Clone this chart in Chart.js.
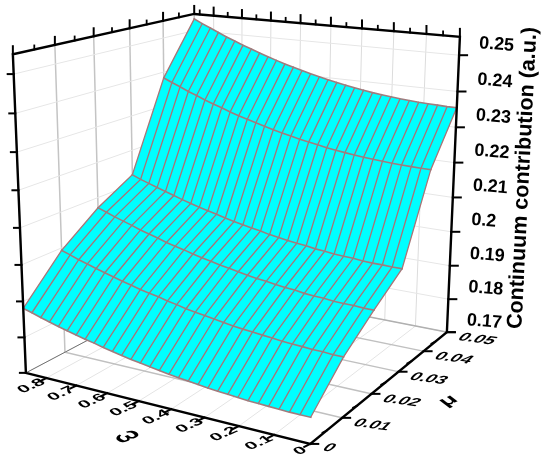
<!DOCTYPE html>
<html>
<head>
<meta charset="utf-8">
<script src="https://cdn.jsdelivr.net/npm/chart.js@4"></script>
<style>
body { margin: 0; background: #fff; }
</style>
</head>
<body>
<canvas id="myChart" width="550" height="465"></canvas>
<script>
var omegaTicks = [0, 0.1, 0.2, 0.3, 0.4, 0.5, 0.6, 0.7, 0.8];
var muTicks = [0, 0.01, 0.02, 0.03, 0.04, 0.05];
var zTicks = [0.17, 0.18, 0.19, 0.2, 0.21, 0.22, 0.23, 0.24, 0.25];
var omegaMax = 0.87, muMax = 0.05, zMin = 0.17, zMax = 0.255;

var omegaGrid = [0, 0.029, 0.058, 0.087, 0.116, 0.145, 0.174, 0.203, 0.232, 0.261, 0.29, 0.319, 0.348, 0.377, 0.406, 0.435,
    0.464, 0.493, 0.522, 0.551, 0.58, 0.609, 0.638, 0.667, 0.696, 0.725, 0.754, 0.783, 0.812, 0.841, 0.87];
var muGrid = [0, 0.01, 0.02, 0.03, 0.04, 0.05];

// continuum contribution along omega, one list per mu value
var contMu000 = [.1768, .1768, .1768, .1769, .1770, .1771, .1772, .1774, .1776, .1778, .1780, .1783, .1786, .1789, .1792, .1796,
    .1800, .1804, .1808, .1813, .1818, .1823, .1829, .1834, .1840, .1846, .1852, .1859, .1866, .1874, .1881];
var contMu001 = [.1860, .1860, .1862, .1862, .1864, .1865, .1867, .1870, .1872, .1875, .1877, .1880, .1884, .1888, .1892, .1896,
    .1900, .1906, .1911, .1917, .1922, .1927, .1934, .1940, .1947, .1954, .1961, .1969, .1976, .1985, .1993];
var contMu002 = [.1927, .1927, .1929, .1929, .1930, .1933, .1934, .1936, .1940, .1942, .1945, .1949, .1952, .1956, .1961, .1966,
    .1970, .1976, .1981, .1987, .1994, .2000, .2006, .2014, .2021, .2028, .2037, .2045, .2053, .2062, .2071];
var contMu003 = [.1988, .1988, .1989, .1989, .1990, .1993, .1994, .1996, .1999, .2001, .2005, .2008, .2011, .2015, .2019, .2025,
    .2029, .2034, .2039, .2045, .2052, .2058, .2064, .2071, .2078, .2086, .2094, .2102, .2110, .2118, .2128];
var contMu004 = [.2217, .2217, .2218, .2219, .2220, .2222, .2224, .2226, .2229, .2232, .2235, .2239, .2244, .2248, .2253, .2259,
    .2264, .2270, .2277, .2284, .2291, .2298, .2306, .2315, .2323, .2332, .2342, .2351, .2362, .2372, .2383];
var contMu005 = [.2355, .2355, .2356, .2357, .2358, .2360, .2362, .2365, .2368, .2371, .2375, .2379, .2384, .2389, .2394, .2400,
    .2406, .2413, .2420, .2427, .2435, .2443, .2452, .2461, .2470, .2480, .2490, .2501, .2512, .2523, .2535];
var surface = [contMu000, contMu001, contMu002, contMu003, contMu004, contMu005];

// camera: where box corners land on the page [u, v, w, px, py], u=omega, v=mu, w=z, all 0..1
var corners = [
    [1, 0, 0, 26, 373], [1, 0, 1, 13, 54], [0, 1, 0, 447, 332],
    [0, 1, 1, 460, 37], [0, 0, 0, 310, 444], [1, 1, 1, 194, 14]
];

function solveCamera(pts) {
    var rows = [];
    pts.forEach(function (p) {
        rows.push([p[0], p[1], p[2], 1, 0, 0, 0, 0, -p[3] * p[0], -p[3] * p[1], -p[3] * p[2], p[3]]);
        rows.push([0, 0, 0, 0, p[0], p[1], p[2], 1, -p[4] * p[0], -p[4] * p[1], -p[4] * p[2], p[4]]);
    });
    // normal equations
    var n = 11, m = [];
    for (var i = 0; i < n; i++) {
        m.push([]);
        for (var j = 0; j <= n; j++) {
            var s = 0;
            rows.forEach(function (r) { s += r[i] * r[j]; });
            m[i].push(s);
        }
    }
    for (var c = 0; c < n; c++) {
        var best = c;
        for (var r = c + 1; r < n; r++) if (Math.abs(m[r][c]) > Math.abs(m[best][c])) best = r;
        var tmp = m[c]; m[c] = m[best]; m[best] = tmp;
        for (var r2 = 0; r2 < n; r2++) {
            if (r2 === c) continue;
            var f = m[r2][c] / m[c][c];
            for (var k = c; k <= n; k++) m[r2][k] -= f * m[c][k];
        }
    }
    return m.map(function (row, idx) { return row[n] / row[idx]; });
}
var cam = solveCamera(corners);

function project(omega, mu, z) {
    var u = omega / omegaMax, v = mu / muMax, w = (z - zMin) / (zMax - zMin);
    var d = cam[8] * u + cam[9] * v + cam[10] * w + 1;
    return {
        x: (cam[0] * u + cam[1] * v + cam[2] * w + cam[3]) / d,
        y: (cam[4] * u + cam[5] * v + cam[6] * w + cam[7]) / d
    };
}

var datasets = [];
function addLine(pts, color, width) {
    datasets.push({ data: pts, showLine: true, pointRadius: 0, borderColor: color, borderWidth: width, fill: false, tension: 0, borderCapStyle: 'square' });
}
function addTick(p, dx, dy, width) {
    addLine([p, { x: p.x + dx, y: p.y + dy }], '#000', width);
}

// grid on walls and floor
omegaTicks.forEach(function (o) {
    addLine([project(o, 0, zMin), project(o, muMax, zMin)], '#e4e4e4', 1);
    addLine([project(o, muMax, zMin), project(o, muMax, zMax)], '#dcdcdc', 1);
});
muTicks.forEach(function (m) {
    addLine([project(omegaMax, m, zMin), project(omegaMax, m, zMax)], '#c4c4c4', 1.5);
    if (m > 0 && m < muMax) addLine([project(omegaMax, m, zMin), project(0, m, zMin)], '#c0c0c0', 1.5);
});
zTicks.forEach(function (z) {
    addLine([project(omegaMax, 0, z), project(omegaMax, muMax, z)], '#e6e6e6', 1);
    addLine([project(omegaMax, muMax, z), project(0, muMax, z)], '#e6e6e6', 1);
});
addLine([project(omegaMax, 0, zMin), project(omegaMax, muMax, zMin)], '#707070', 1);
addLine([project(omegaMax, muMax, zMin), project(0, muMax, zMin)], '#b0b0b0', 1.5);

// surface fill, strip by strip from the back
for (var r = surface.length - 2; r >= 0; r--) {
    var strip = [];
    omegaGrid.forEach(function (o, i) { strip.push(project(o, muGrid[r], surface[r][i])); });
    for (var i = omegaGrid.length - 1; i >= 0; i--) strip.push(project(omegaGrid[i], muGrid[r + 1], surface[r + 1][i]));
    datasets.push({ data: strip, showLine: true, pointRadius: 0, borderWidth: 0, borderColor: '#00ffff', backgroundColor: '#00ffff', fill: 'shape', tension: 0 });
}

// mesh
omegaGrid.forEach(function (o, i) {
    addLine(surface.map(function (row, r) { return project(o, muGrid[r], row[i]); }), '#a87476', 1.3);
});
surface.forEach(function (row, r) {
    addLine(omegaGrid.map(function (o, i) { return project(o, muGrid[r], row[i]); }), '#a07c7e', 1.6);
});

// box edges
addLine([project(omegaMax, 0, zMin), project(omegaMax, 0, zMax), project(omegaMax, muMax, zMax), project(0, muMax, zMax), project(0, muMax, zMin), project(0, 0, zMin), project(omegaMax, 0, zMin)], '#000', 2.4);

muTicks.forEach(function (m, i) {
    addTick(project(omegaMax, m, zMax), 0, -8, 2);
    addTick(project(0, m, zMin), 8, 0, 2);
    if (i < muTicks.length - 1) {
        addTick(project(omegaMax, m + 0.005, zMax), 0, -4, 1.8);
        addTick(project(0, m + 0.005, zMin), -4, 2, 1.8);
    }
});
omegaTicks.forEach(function (o, i) {
    addTick(project(o, muMax, zMax), 0, -8, 2);
    addTick(project(o, 0, zMin), -6, 3, 2);
    addTick(project(o + 0.05, muMax, zMax), 0, -4, 1.8);
});
zTicks.forEach(function (z) {
    addTick(project(omegaMax, 0, z), -6, 0, 2);
    addTick(project(0, muMax, z), 8, 0, 2);
});

datasets.forEach(function (d, i) { d.order = datasets.length - i; });

var axisText = {
    id: 'axisText',
    afterDraw: function (chart) {
        var ctx = chart.ctx, sx = chart.scales.x, sy = chart.scales.y;
        function text(str, p, dx, dy, m, font, align) {
            ctx.save();
            ctx.transform(m[0], m[1], m[2], m[3], sx.getPixelForValue(p.x) + dx, sy.getPixelForValue(p.y) + dy);
            ctx.font = font;
            ctx.fillStyle = '#000';
            ctx.textAlign = align || 'center';
            ctx.textBaseline = 'middle';
            ctx.fillText(str, 0, 0);
            ctx.restore();
        }
        var bold = 'bold 18px "Liberation Sans"';
        var omegaSkew = [0.95, -0.42, 0.6, 0.45];
        var muSkew = [1, 0.14, -0.6, 0.6];
        omegaTicks.forEach(function (o) {
            if (o === 0) text('0', project(o, 0, zMin), -10, 7, omegaSkew, bold);
            else text(String(o), project(o, 0, zMin), -15, 8, omegaSkew, bold);
        });
        muTicks.forEach(function (m) {
            if (m === 0) text('0', project(0, m, zMin), 19, 4, muSkew, bold);
            else text(String(m), project(0, m, zMin), 30, 7, muSkew, bold);
        });
        zTicks.forEach(function (z) {
            text(String(z), project(0, muMax, z), 20, -12, [0.996, 0.08, -0.08, 0.996], bold, 'left');
        });
        text('\u03c9', project(0.45, 0, zMin), -28, 31, omegaSkew, 'bold 26px "Liberation Sans"');
        text('\u03bc', project(0, 0.025, zMin), 63, 18, omegaSkew, 'bold 24px "Liberation Sans"');
        text('Continuum contribution (a.u.)', { x: 523, y: 178 }, 0, 0, [0.05, -1, 1, 0.05], 'bold 21.5px "Liberation Sans"');
    }
};

var ctx = document.getElementById('myChart').getContext('2d');
var myChart = new Chart(ctx, {
    type: 'scatter',
    data: { datasets: datasets },
    options: {
        responsive: false,
        animation: false,
        layout: { padding: 0 },
        plugins: { legend: { display: false }, tooltip: { enabled: false } },
        scales: {
            x: { type: 'linear', min: 0, max: 550, display: false },
            y: { type: 'linear', min: 0, max: 465, reverse: true, display: false }
        }
    },
    plugins: [axisText]
});
</script>
</body>
</html>
